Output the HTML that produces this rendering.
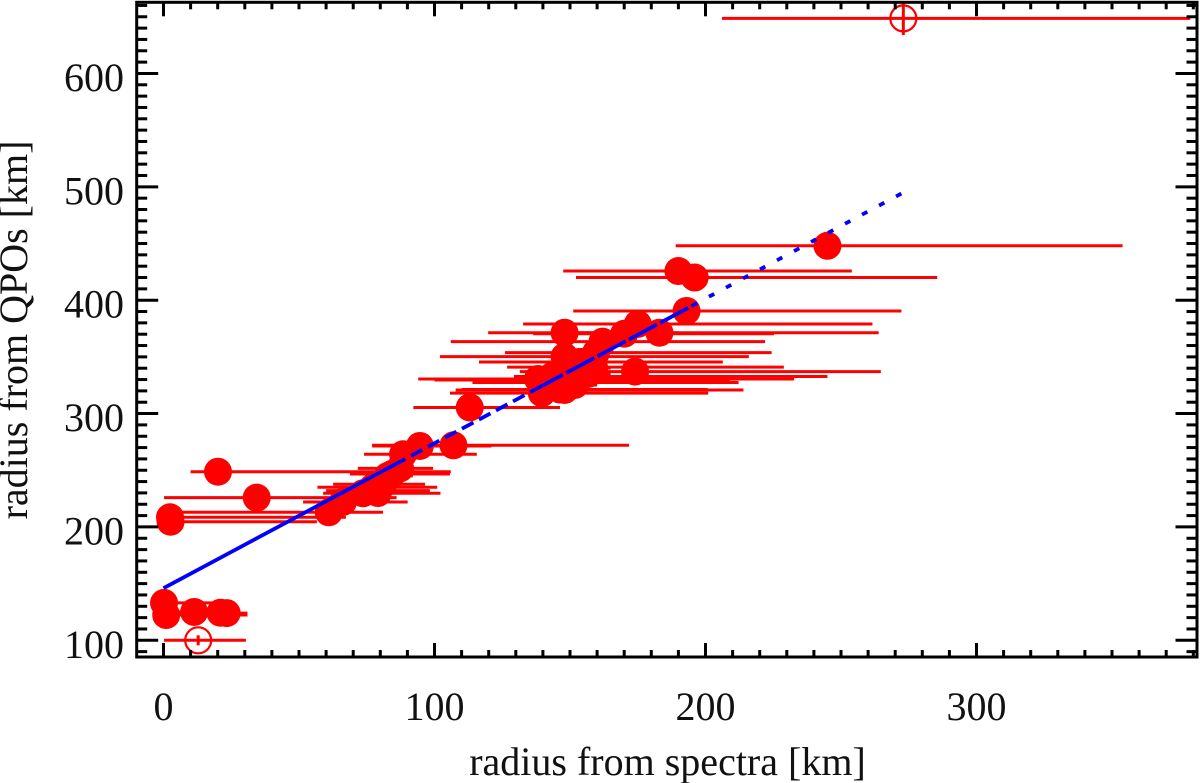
<!DOCTYPE html>
<html>
<head>
<meta charset="utf-8">
<title>Radius from QPOs vs radius from spectra</title>
<style>
html,body{margin:0;padding:0;background:#fff;}
svg{display:block;}
text{font-family:"Liberation Serif","Times New Roman",serif;fill:#111;}
</style>
</head>
<body>
<svg id="chart" xmlns="http://www.w3.org/2000/svg" width="1200" height="783" viewBox="0 0 1200 783">
  <g id="error-bars"></g>
  <g id="markers"></g>
  <g id="fit"></g>
  <g id="ticks"></g>
  <rect x="136.7" y="2.3" width="1060.3" height="654.7" fill="none" stroke="#000" stroke-width="3"></rect>
  <g id="labels"></g>
  <text x="667.5" y="775" font-size="40" text-anchor="middle">radius from spectra [km]</text>
  <text x="0" y="0" font-size="40" text-anchor="middle" transform="translate(27,330) rotate(-90)">radius from QPOs [km]</text>
</svg>
<script>
// Filled points
const pointX = [245,190,196,193,183,175,170,148,162,159.6,148,174,151.8,155.5,158,138.2,143.4,144.5,148,146.3,139.6,158.9,151.8,143.4,150,153.7,156.6,113,107,94.6,88.4,87.3,84.3,82.8,81,79.1,77.3,76.2,73.6,66.2,61,34.4,20.1,2.4,2.6,0.2,1,11.3,21,23.3];
const pointY = [448,425.7,420,390.5,371.3,379,370.4,371.3,363.4,353.7,350.2,337,332.7,341,345.5,330.5,329.6,327.4,320.8,321.2,318,340.2,325.2,333.1,336.7,345.6,334.9,305.4,272,271.4,264.1,251.7,246.7,245,237.6,229.9,235,232,229.7,222,212.9,225.8,248.7,208.5,204.6,133,122.3,125,124.3,124];
const pointLow = [189,147.5,152.2,151.2,150,132.7,136.4,119.8,106,126,102,131.5,129.3,126.8,116.4,94,100,114,107.8,110,105.7,150,140,135,140,145,150,92.2,77,77,74,71.7,68.8,75,62.6,70,56.8,60,58.9,51.5,3,0.2,10,0.5,1,0,0,0,0,5];
const pointHigh = [353.9,254,285.5,272.3,263.9,261.6,225.3,190,222,224.4,216,264.7,245,228.9,206.4,232.7,209,212.2,214,200.8,201,165,160,150,160,160,165,146.3,171.8,121,115.6,99.5,105.7,92,96.5,90,101,98.3,102.2,90.1,81,86,106,67.3,56.6,18,31,20,25,31];

// Open points
const openX = [273,12.8];
const openY = [648.6,100];
const openLow = [206.1,0.2];
const openHigh = [378.9,30.4];
const openYErr = [14.7,4.4];

// Fit line: solid, dashes, long dashes, short dashes
const fitSolidX = [0,85];
const fitSolidY = [146,254.6];
const fitDashX = [85,137];
const fitDashY = [254.6,321];
const fitLongX = [137,195];
const fitLongY = [321,395];
const fitDotX = [195,273];
const fitDotY = [395,495];

// Axis labels
const xTickLabels = [0,100,200,300];
const yTickLabels = [100,200,300,400,500,600];
const xMinorStep = 10;
const yMinorStep = 10;

const NS = 'http://www.w3.org/2000/svg';
const sx = v => 163.5 + v * 2.71;
const sy = v => 640.3 - (v - 100) * 1.1337;

function make(tag, attrs, parent) {
  const el = document.createElementNS(NS, tag);
  for (const k in attrs) el.setAttribute(k, attrs[k]);
  parent.appendChild(el);
  return el;
}

const barsG = document.getElementById('error-bars');
const markersG = document.getElementById('markers');
const fitG = document.getElementById('fit');
const ticksG = document.getElementById('ticks');
const labelsG = document.getElementById('labels');

pointX.forEach((x, i) => {
  const bar = make('line', {x1: sx(pointLow[i]), x2: sx(pointHigh[i]), y1: sy(pointY[i]), y2: sy(pointY[i]), stroke: '#f00', 'stroke-width': 3}, barsG);
  
  
  const dot = make('circle', {cx: sx(x), cy: sy(pointY[i]), r: 14, fill: '#f00'}, markersG);
  
  
});

openX.forEach((x, i) => {
  const bar = make('line', {x1: sx(openLow[i]), x2: sx(openHigh[i]), y1: sy(openY[i]), y2: sy(openY[i]), stroke: '#f00', 'stroke-width': 3}, barsG);
  
  
  const vbar = make('line', {x1: sx(x), x2: sx(x), y1: sy(openY[i] - openYErr[i]), y2: sy(openY[i] + openYErr[i]), stroke: '#f00', 'stroke-width': 3}, barsG);
  
  
  const ring = make('circle', {cx: sx(x), cy: sy(openY[i]), r: 13, fill: 'none', stroke: '#f00', 'stroke-width': 2.2}, markersG);
  
  
});

function fitSegment(xs, ys, dash) {
  const attrs = {x1: sx(xs[0]), x2: sx(xs[1]), y1: sy(ys[0]), y2: sy(ys[1]), stroke: '#00f', 'stroke-width': 3.8};
  if (dash) attrs['stroke-dasharray'] = dash;
  return make('line', attrs, fitG);
}
const fitSolid = fitSegment(fitSolidX, fitSolidY, null);


const fitDash = fitSegment(fitDashX, fitDashY, '13 6.3');


const fitLong = fitSegment(fitLongX, fitLongY, '32 3.5');


const fitDot = fitSegment(fitDotX, fitDotY, '6 13.3');



function tick(x1, y1, x2, y2) {
  const t = make('line', {x1, y1, x2, y2, stroke: '#000', 'stroke-width': 3}, ticksG);
  
  
}

const yTop = 2.3, yBot = 657, xLeft = 136.7, xRight = 1197;
for (let v = 0; v <= 380; v += xMinorStep) {
  const major = xTickLabels.includes(v);
  const len = major ? 14 : 7;
  tick(sx(v), yBot, sx(v), yBot - len);
  tick(sx(v), yTop, sx(v), yTop + len);
}
for (let v = 90; v <= 660; v += yMinorStep) {
  const major = yTickLabels.includes(v);
  const len = major ? 21.5 : 10.5;
  tick(xLeft, sy(v), xLeft + len, sy(v));
  tick(xRight, sy(v), xRight - len, sy(v));
}

xTickLabels.forEach(v => {
  const t = make('text', {x: sx(v), y: 720, 'font-size': 40, 'text-anchor': 'middle'}, labelsG);
  t.textContent = v;
  
  
});
yTickLabels.forEach(v => {
  const t = make('text', {x: 124, y: sy(v) + 17.5, 'font-size': 40, 'text-anchor': 'end'}, labelsG);
  t.textContent = v;
  
  
});
</script>
</body>
</html>
